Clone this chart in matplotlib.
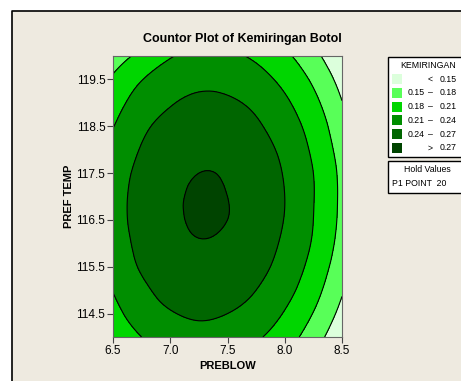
import numpy as np
import matplotlib
matplotlib.use("Agg")
import matplotlib.pyplot as plt
import matplotlib.tri as mtri
from matplotlib.patches import Rectangle

# fitted surface (rows = PREF TEMP, cols = PREBLOW)
preblow = [6.5, 6.75, 7.0, 7.25, 7.5, 7.75, 8.0, 8.25, 8.5]
pref_temp = [114, 114.5, 115, 115.5, 116, 116.5, 117, 117.5, 118, 118.5, 119, 119.5, 120]
kemiringan = [
    [0.187, 0.210, 0.224, 0.230, 0.226, 0.214, 0.194, 0.164, 0.127],
    [0.201, 0.224, 0.238, 0.244, 0.240, 0.229, 0.208, 0.179, 0.141],
    [0.211, 0.234, 0.249, 0.255, 0.252, 0.240, 0.220, 0.191, 0.153],
    [0.219, 0.243, 0.257, 0.263, 0.261, 0.249, 0.229, 0.200, 0.163],
    [0.224, 0.248, 0.263, 0.269, 0.266, 0.255, 0.235, 0.207, 0.169],
    [0.227, 0.251, 0.266, 0.272, 0.270, 0.259, 0.239, 0.210, 0.173],
    [0.227, 0.251, 0.266, 0.272, 0.270, 0.259, 0.240, 0.211, 0.174],
    [0.224, 0.248, 0.263, 0.270, 0.268, 0.257, 0.238, 0.210, 0.173],
    [0.218, 0.242, 0.258, 0.264, 0.263, 0.252, 0.233, 0.205, 0.168],
    [0.209, 0.234, 0.249, 0.256, 0.255, 0.244, 0.225, 0.198, 0.161],
    [0.198, 0.223, 0.238, 0.246, 0.244, 0.234, 0.215, 0.188, 0.151],
    [0.184, 0.209, 0.225, 0.232, 0.231, 0.221, 0.202, 0.175, 0.139],
    [0.166, 0.188, 0.208, 0.216, 0.215, 0.205, 0.186, 0.159, 0.123],
]
levels = [0.15, 0.18, 0.21, 0.24, 0.27]
legend_labels = [("", "<", "0.15"), ("0.15", "\u2013", "0.18"), ("0.18", "\u2013", "0.21"),
                 ("0.21", "\u2013", "0.24"), ("0.24", "\u2013", "0.27"), ("", ">", "0.27")]
colors = ["#dcffdc", "#58ff58", "#00d600", "#008e00", "#006600", "#004400"]
x_ticks = [6.5, 7.0, 7.5, 8.0, 8.5]
y_ticks = [114.5, 115.5, 116.5, 117.5, 118.5, 119.5]

W, H = 461, 381
fig = plt.figure(figsize=(W / 100, H / 100), dpi=100)
fig.patch.set_facecolor("white")
font = ["Liberation Sans", "DejaVu Sans"]
bg_col = "#eeeae0"

# pixel overlay for the panel background, title and legend
bg = fig.add_axes([0, 0, 1, 1], zorder=0)
bg.set_xlim(0, W)
bg.set_ylim(H, 0)
bg.axis("off")
bg.add_patch(Rectangle((12, 11), W, H, facecolor=bg_col, edgecolor="none"))
bg.plot([12, 12, W], [H, 11, 11], color="black", lw=1.2)
bg.text(242, 39, "Countor Plot of Kemiringan Botol", fontsize=9, fontweight="bold",
        family=["Liberation Sans Narrow", "Liberation Sans"], ha="center", va="center")

# legend box
bg.add_patch(Rectangle((388, 57), 80, 100, facecolor="white", edgecolor="black", lw=1))
bg.text(428, 66, "KEMIRINGAN", fontsize=6.3, family=font, ha="center", va="center")
for i, (lo, sym, hi) in enumerate(legend_labels):
    yc = 79 + i * 13.8
    bg.add_patch(Rectangle((392, yc - 5), 10, 10, facecolor=colors[i], edgecolor="none"))
    if lo:
        bg.text(408, yc, lo, fontsize=6.3, family=font, ha="left", va="center")
    bg.text(430, yc, sym, fontsize=6.3, family=font, ha="center", va="center")
    bg.text(457, yc, hi, fontsize=6.3, family=font, ha="right", va="center")
bg.add_patch(Rectangle((388, 161), 80, 32, facecolor="white", edgecolor="black", lw=1))
bg.text(427, 170, "Hold Values", fontsize=6.3, family=font, ha="center", va="center")
bg.text(392, 184, "P1 POINT  20", fontsize=6.3, family=font, ha="left", va="center")

# main contour plot: grid triangulated in unit-scaled coords, smoothed by cubic refinement
ax = fig.add_axes([113 / W, 1 - 337 / H, (342 - 113) / W, (337 - 56) / H], zorder=1)
nx, ny = len(preblow), len(pref_temp)
U, V = np.meshgrid(np.linspace(0, 1, nx), np.linspace(0, 1, ny))
tris = []
for j in range(ny - 1):
    for i in range(nx - 1):
        k = j * nx + i
        tris.append([k, k + 1, k + nx + 1])
        tris.append([k, k + nx + 1, k + nx])
tri = mtri.Triangulation(U.ravel(), V.ravel(), tris)
z = np.array(kemiringan).ravel()
interp = mtri.CubicTriInterpolator(tri, z, kind="min_E")
tri_f, z_f = mtri.UniformTriRefiner(tri).refine_field(z, triinterpolator=interp, subdiv=3)
xs = preblow[0] + tri_f.x * (preblow[-1] - preblow[0])
ys = pref_temp[0] + tri_f.y * (pref_temp[-1] - pref_temp[0])
tri_xy = mtri.Triangulation(xs, ys, tri_f.triangles)
ax.tricontourf(tri_xy, z_f, levels=[0.0] + levels + [1.0], colors=colors)
ax.tricontour(tri_xy, z_f, levels=levels, colors="black", linewidths=0.8)
ax.set_xlim(6.5, 8.5)
ax.set_ylim(114, 120)
ax.set_xticks(x_ticks)
ax.set_xticklabels([f"{v:.1f}" for v in x_ticks])
ax.set_yticks(y_ticks)
ax.set_yticklabels([f"{v:.1f}" for v in y_ticks])
ax.tick_params(direction="out", length=4, width=0.8, color="#444444", labelsize=8.5, pad=1.5)
for lab in ax.get_xticklabels() + ax.get_yticklabels():
    lab.set_family(font)
for s in ax.spines.values():
    s.set_color("#666666")
    s.set_linewidth(0.8)
ax.set_xlabel("PREBLOW", fontsize=8, fontweight="bold", family=font, labelpad=3)
ax.set_ylabel("PREF TEMP", fontsize=8, fontweight="bold", family=font, labelpad=2)

fig.savefig("out.png", dpi=100)
